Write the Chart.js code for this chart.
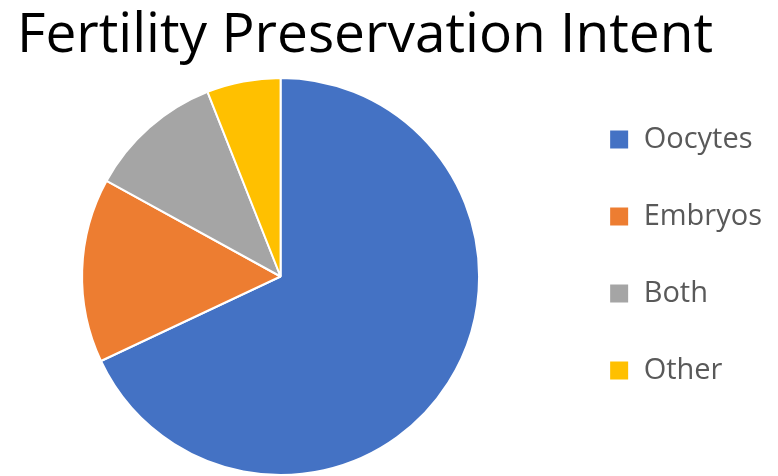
<!DOCTYPE html>
<html>
<head>
<meta charset="utf-8">
<script src="https://cdn.jsdelivr.net/npm/chart.js@4.4.1/dist/chart.umd.min.js"></script>
<style>
  html, body { margin: 0; padding: 0; background: #fff; }
  #wrap { width: 778px; height: 476px; position: relative; overflow: hidden; }
  #chart { position: absolute; left: 0; top: 0; }
  .chart-title {
    position: absolute;
    left: 17px;
    top: 3px;
    margin: 0;
    font: normal 55px/1 'Open Sans', sans-serif;
    color: #000;
    white-space: nowrap;
  }
</style>
</head>
<body>
<div id="wrap">
  <canvas id="chart" width="778" height="476"></canvas>
  <h1 class="chart-title">Fertility Preservation Intent</h1>
</div>
<script>
// share of respondents by what they intend to preserve (%)
const categories = ['Oocytes', 'Embryos', 'Both', 'Other'];
const shares = [68, 15, 11, 6];
const sliceColors = ['#4472C4', '#ED7D31', '#A5A5A5', '#FFC000'];

new Chart(document.getElementById('chart'), {
  type: 'pie',
  data: {
    labels: categories,
    datasets: [
      {
        data: shares,
        backgroundColor: sliceColors,
        borderColor: '#ffffff',
        borderWidth: 2,
      },
    ],
  },
  options: {
    responsive: false,
    animation: false,
    layout: {
      // room at the top is taken by the html heading; the pie runs off the bottom edge a little
      padding: { top: 77, left: 0, right: 6, bottom: -2 },
    },
    plugins: {
      title: { display: false },
      tooltip: { enabled: false },
      legend: {
        position: 'right',
        align: 'start',
        labels: {
          boxWidth: 20,
          boxHeight: 20,
          padding: 48,
          color: '#595959',
          font: { family: "'Open Sans', sans-serif", size: 29 },
        },
      },
    },
  },
});
</script>
</body>
</html>
